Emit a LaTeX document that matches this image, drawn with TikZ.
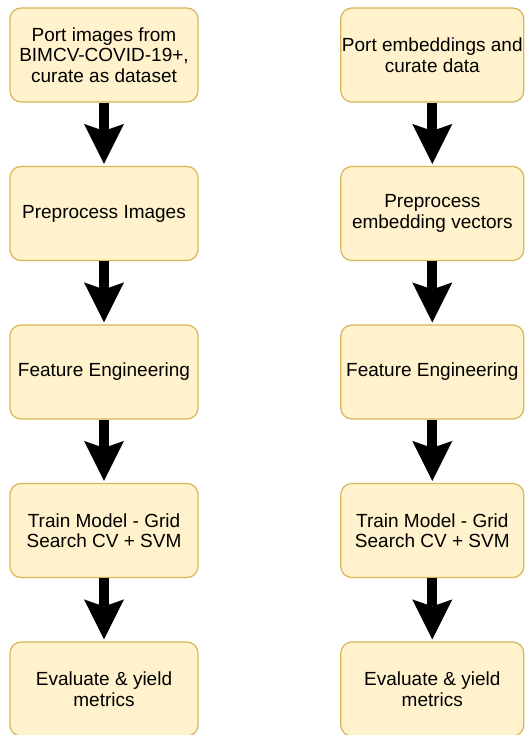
\documentclass[tikz,border=0pt]{standalone}
\usepackage{fontspec}
\setmainfont{Liberation Sans}
\usetikzlibrary{arrows.meta}
\definecolor{boxfill}{HTML}{FFF2CC}
\definecolor{boxline}{HTML}{D6B656}
\begin{document}
\begin{tikzpicture}[x=1pt,y=1pt,
 box/.style={draw=boxline, fill=boxfill, line width=1.2pt, rounded corners=11pt, minimum height=94pt, align=center, font=\fontsize{19}{20.5}\selectfont, inner sep=0pt},
 lbox/.style={box, minimum width=188pt},
 rbox/.style={box, minimum width=183pt},
 flow/.style={line width=10pt, -{Stealth[length=40pt,width=40pt,inset=7pt,line width=0pt]}, shorten >=2pt}]
\useasboundingbox (0,0) rectangle (526,-735);
\node[lbox] (l1) at (104,-55) {Port images from\\BIMCV-COVID-19+,\\curate as dataset};
\node[lbox] (l2) at (104,-213.5) {Preprocess Images};
\node[lbox] (l3) at (104,-372) {Feature Engineering};
\node[lbox] (l4) at (104,-530.5) {Train Model - Grid\\Search CV + SVM};
\node[lbox] (l5) at (104,-689) {Evaluate \& yield\\metrics};
\node[rbox] (r1) at (432.3,-55) {Port embeddings and\\curate data};
\node[rbox] (r2) at (432.3,-213.5) {Preprocess\\embedding vectors};
\node[rbox] (r3) at (432.3,-372) {Feature Engineering};
\node[rbox] (r4) at (432.3,-530.5) {Train Model - Grid\\Search CV + SVM};
\node[rbox] (r5) at (432.3,-689) {Evaluate \& yield\\metrics};
\foreach \a/\b in {l1/l2,l2/l3,l3/l4,l4/l5,r1/r2,r2/r3,r3/r4,r4/r5}
  \draw[flow] (\a.south) -- (\b.north);
\end{tikzpicture}
\end{document}
